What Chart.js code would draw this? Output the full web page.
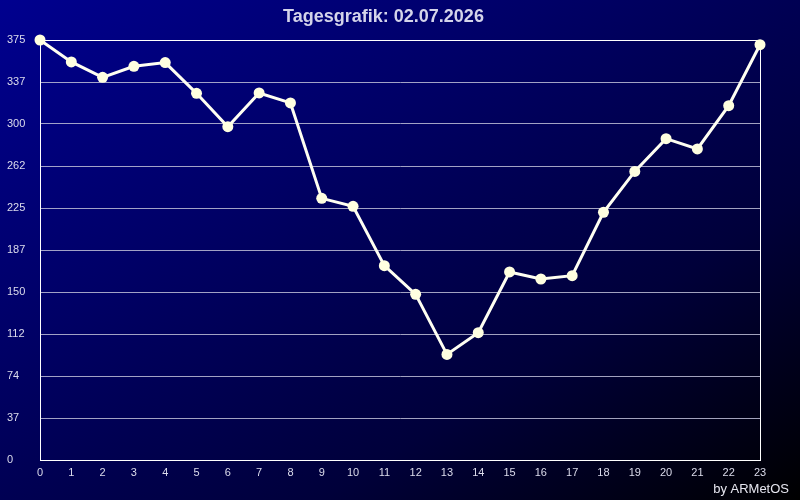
<!DOCTYPE html>
<html>
<head>
<meta charset="utf-8">
<script src="https://cdn.jsdelivr.net/npm/chart.js@4/dist/chart.umd.min.js"></script>
<style>
  html, body { margin: 0; padding: 0; }
  body { width: 800px; height: 500px; overflow: hidden;
    background: linear-gradient(to bottom right, #00008f 0%, #000066 35%, #00003a 70%, #000000 100%); }
  #wrap { width: 800px; height: 500px; position: relative; }
</style>
</head>
<body>
<div id="wrap"><canvas id="c"></canvas></div>
<script>
const titleText = 'Tagesgrafik: 02.07.2026';
const footerText = 'by ARMetOS';
const hours = ['0','1','2','3','4','5','6','7','8','9','10','11','12','13','14','15','16','17','18','19','20','21','22','23'];
const values = [375, 355.4, 341.7, 351.5, 354.8, 327.4, 297.6, 327.7, 318.8, 233.6, 226.5, 173.5, 147.9, 94.3, 113.7, 167.9, 161.6, 164.6, 221.2, 257.7, 286.9, 277.7, 316.4, 370.8];
const yTickLabels = ['0','37','74','112','150','187','225','262','300','337','375'];
const yMax = 375;

const frameAndFooter = {
  id: 'frameAndFooter',
  afterDatasetsDraw(chart) {},
  beforeDatasetsDraw(chart) {
    const {ctx, chartArea: a} = chart;
    ctx.save();
    ctx.strokeStyle = '#ffffff';
    ctx.lineWidth = 1;
    ctx.strokeRect(Math.round(a.left) + 0.5, Math.round(a.top) + 0.5, Math.round(a.right - a.left), Math.round(a.bottom - a.top));
    ctx.restore();
  },
  afterDraw(chart) {
    const {ctx} = chart;
    ctx.save();
    ctx.font = '13px "Liberation Sans", Arial, sans-serif';
    ctx.fillStyle = '#e6e6f0';
    ctx.textAlign = 'right';
    ctx.textBaseline = 'alphabetic';
    ctx.fillText(footerText, 789, 493);
    ctx.restore();
  }
};

new Chart(document.getElementById('c'), {
  type: 'line',
  data: {
    labels: hours,
    datasets: [{
      data: values,
      borderColor: '#fffff2',
      borderWidth: 3,
      pointRadius: 5.5,
      pointHoverRadius: 5.5,
      pointBackgroundColor: '#ffffe0',
      pointBorderColor: '#ffffe0',
      pointBorderWidth: 0,
      tension: 0,
      clip: false
    }]
  },
  options: {
    responsive: true,
    maintainAspectRatio: false,
    animation: false,
    events: [],
    layout: { padding: { left: 7, right: 40, top: 0, bottom: 0 } },
    plugins: {
      legend: { display: false },
      tooltip: { enabled: false },
      title: {
        display: true,
        text: titleText,
        color: '#d4d4ea',
        font: { family: '"Liberation Sans", Arial, sans-serif', size: 18, weight: 'bold', lineHeight: 1.2 },
        padding: { top: 6, bottom: 12.4 }
      }
    },
    scales: {
      x: {
        type: 'category',
        offset: false,
        grid: { display: false, drawTicks: false },
        border: { display: true, color: '#ffffff', width: 1 },
        ticks: {
          color: '#dcdcec',
          font: { family: '"Liberation Sans", Arial, sans-serif', size: 11 },
          padding: 6,
          maxRotation: 0,
          autoSkip: false
        },
        afterFit(scale) { scale.height = 40; }
      },
      y: {
        min: 0,
        max: yMax,
        grid: {
          color: (ctx) => (ctx.tick && ctx.tick.value >= yMax ? '#ffffff' : 'rgba(190,190,215,0.85)'),
          lineWidth: 1,
          drawTicks: false
        },
        border: { display: true, color: '#ffffff', width: 1 },
        ticks: {
          stepSize: yMax / 10,
          color: '#dcdcec',
          font: { family: '"Liberation Sans", Arial, sans-serif', size: 11 },
          crossAlign: 'far',
          padding: 0,
          callback: (v, i) => yTickLabels[i]
        },
        afterFit(scale) { scale.width = 33; }
      }
    }
  },
  plugins: [frameAndFooter]
});
</script>
</body>
</html>
